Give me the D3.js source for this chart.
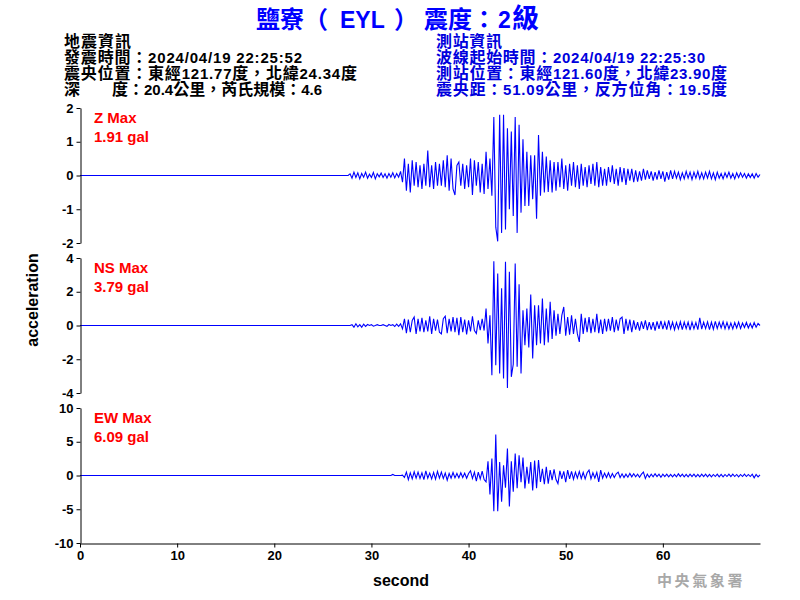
<!DOCTYPE html>
<html><head><meta charset="utf-8">
<script src="https://cdn.jsdelivr.net/npm/d3@7/dist/d3.min.js"></script>
<style>body{margin:0;background:#fff}</style>
</head><body><svg id="c" width="800" height="600"></svg>
<script>
// ---------------- data ----------------
const startTime = 27.0;   // seconds, first sample
const sampleStep = 0.2;   // seconds between samples
const zValues = [
 0,0,0,0,0.05,-0.08,0.1,-0.06,0.08,-0.1,
 0.06,-0.05,0.1,-0.08,0.04,-0.06,0.09,-0.1,0.05,-0.04,
 0.07,-0.06,0.05,-0.08,0.06,-0.05,0.08,-0.07,0.06,-0.05,
 0.12,-0.2,0.5,-0.45,0.35,-0.5,0.45,-0.3,0.4,-0.35,
 0.3,-0.4,0.35,-0.3,0.74,-0.35,0.3,-0.4,0.4,-0.3,
 0.35,-0.3,0.45,-0.35,0.6,-0.45,0.5,-0.4,-0.58,0.3,
 0.4,-0.3,0.35,-0.4,0.3,-0.35,0.5,-0.58,0.45,-0.3,
 0.4,-0.5,0.35,-0.55,0.7,-0.4,0.5,-0.6,1.73,-1.53,
 -1.95,1.8,-1.7,1.8,-1.6,1.4,-1.0,1.3,-1.2,1.73,
 -1.7,1.5,-1.1,1.07,-0.9,0.7,-0.9,0.6,-0.7,0.6,
 -1.28,1.2,-0.6,0.7,-0.5,0.56,-0.49,0.45,-0.5,0.4,
 -0.45,0.4,-0.35,0.5,-0.4,0.3,-0.45,0.35,-0.3,0.4,
 -0.35,0.3,-0.4,0.35,-0.3,0.25,-0.35,0.3,-0.25,0.35,
 -0.3,0.4,-0.35,0.25,-0.3,0.2,-0.3,0.25,-0.2,0.3,
 -0.25,0.2,-0.3,0.25,-0.2,0.22,-0.28,0.2,-0.15,0.2,
 -0.2,0.15,-0.18,0.12,-0.15,0.2,-0.12,0.15,-0.1,0.12,
 -0.15,0.1,-0.12,0.15,-0.1,0.12,-0.18,0.1,-0.12,0.15,
 -0.1,0.12,-0.08,0.1,-0.12,0.08,-0.1,0.12,-0.08,0.1,
 -0.12,0.1,-0.08,0.12,-0.1,0.08,-0.1,0.1,-0.08,0.12,
 -0.1,0.08,-0.12,0.1,-0.08,0.06,-0.1,0.08,-0.06,0.1,
 -0.08,0.06,-0.1,0.08,-0.06,0.08,-0.05,0.06,-0.08,0.05,
 -0.06,0.05,-0.08,0.06,-0.05,0.03
];
const nsValues = [
 0,0,0,0,0,0.05,-0.1,0.1,-0.08,0.05,
 -0.1,0.08,-0.05,0.06,0,0.05,-0.04,0,0.05,0,
 0,0.05,0,-0.05,0.06,0,0.05,-0.06,0.08,-0.05,
 0.1,-0.2,0.4,-0.45,0.35,-0.4,0.3,0.5,-0.5,0.4,
 -0.35,0.45,-0.4,0.3,-0.35,0.55,-0.5,0.4,-0.3,0.35,
 -0.4,-0.5,0.4,0.55,-0.45,0.4,-0.35,0.5,-0.4,0.45,
 -0.58,0.5,-0.4,0.35,-0.53,0.3,-0.35,0.55,-0.3,-0.47,
 0.3,-0.28,0.4,-0.3,1.0,-1.07,0.6,-2.95,3.81,-2.35,
 3.08,-2.85,2.2,-3.14,3.77,-3.7,3.18,-3.04,-2.3,3.68,
 -2.45,2.45,-2.85,0.9,-1.17,1.0,-1.3,1.84,-1.96,1.2,
 -1.17,1.2,-1.07,1.6,-1.17,1.0,-1.0,1.4,-0.8,0.9,
 -0.6,0.7,-0.5,0.6,1.1,-0.6,0.5,-0.55,0.6,-0.5,
 0.4,-0.5,-0.97,0.7,-0.5,0.45,-0.4,0.5,-0.45,0.4,
 -0.4,0.7,-0.45,0.35,-0.5,0.4,-0.35,0.4,-0.3,0.5,
 -0.4,0.35,-0.3,0.4,0.5,-0.5,0.4,-0.3,0.35,-0.4,
 0.3,-0.25,0.2,-0.3,0.25,-0.2,0.3,-0.28,0.2,-0.25,
 0.2,-0.3,0.25,-0.2,0.28,-0.22,0.2,-0.25,0.3,-0.2,
 0.2,-0.25,0.18,-0.2,0.22,-0.25,0.2,-0.18,0.2,-0.28,
 0.2,-0.2,0.18,-0.25,0.45,-0.22,0.2,-0.18,0.22,-0.25,
 0.2,-0.22,0.25,-0.18,0.2,-0.15,0.22,-0.2,0.18,-0.2,
 0.15,-0.2,0.18,-0.15,0.2,-0.18,0.15,-0.12,0.18,-0.15,
 0.12,-0.15,0.18,-0.1,0.12,0
];
const ewValues = [
 0,0,0,0,0,0,0,0,0,0,
 0,0,0,0,0,0,0,0,0,0,
 0,0,0,0,0,0,0.15,0,0,0,
 0,0.05,-0.3,0.5,-0.6,0.4,-0.5,0.55,-0.4,0.5,
 -0.45,0.4,-0.6,0.7,-0.4,0.35,-0.5,0.45,-0.55,0.6,
 -0.4,0.5,-0.45,0.35,-0.7,0.3,-0.4,0.45,-0.35,0.3,
 -0.35,0.4,-0.3,0.35,-0.4,0.3,0.7,-0.45,0.5,-0.84,
 0.5,-0.5,0.65,-0.6,-0.95,2.1,-2.8,2.5,-5.3,6.09,
 -5.3,2.0,-3.9,1.5,-1.8,4.0,-4.6,2.1,-2.4,3.26,
 -1.9,3.0,-1.0,2.67,-1.93,1.3,-1.2,2.0,-2.2,2.2,
 -1.9,2.3,-0.95,1.0,-1.3,1.3,-1.2,0.8,-0.7,0.9,
 -0.6,-1.2,0.7,-0.5,0.6,-1.0,0.8,-0.5,0.6,-0.55,
 0.5,-0.4,0.6,-0.45,0.45,-0.5,0.4,0.8,-0.5,0.4,
 -0.4,0.45,-0.95,0.8,-0.4,0.35,-0.3,0.4,-0.35,0.3,
 -0.3,0.25,0.5,-0.3,0.25,-0.3,0.2,-0.25,0.3,-0.2,
 0.25,-0.2,0.2,-0.25,0.2,0.5,-0.45,0.2,-0.25,0.2,
 -0.2,0.25,-0.15,0.2,-0.25,0.2,-0.15,0.2,-0.2,0.15,
 -0.2,0.15,-0.2,0.25,-0.15,0.2,-0.2,0.15,-0.2,0.2,
 -0.15,0.2,-0.2,0.15,-0.2,0.2,-0.15,0.2,-0.2,0.15,
 -0.2,0.15,-0.15,0.2,-0.2,0.15,-0.2,0.15,-0.15,0.2,
 -0.15,0.2,-0.15,0.15,-0.2,0.15,-0.15,0.2,-0.15,0.15,
 -0.15,0.2,-0.35,0.15,-0.2,0.1
];
const zTicks = [-2,-1,0,1,2];
const nsTicks = [-4,-2,0,2,4];
const ewTicks = [-10,-5,0,5,10];
const xTicks = [0,10,20,30,40,50,60];
const channelNames = ["Z","NS","EW"];
const channelPeaks = ["1.91 gal","3.79 gal","6.09 gal"];
const titleParts = ["鹽寮（","EYL","）","震度：","2","級"];
const quakeInfo = ["地震資訊","發震時間：2024/04/19 22:25:52","震央位置：東經121.77度，北緯24.34度","深　　度：20.4公里，芮氏規模：4.6"];
const stationInfo = ["測站資訊","波線起始時間：2024/04/19 22:25:30","測站位置：東經121.60度，北緯23.90度","震央距：51.09公里，反方位角：19.5度"];
const xLabel = "second", yLabel = "acceleration", agency = "中央氣象署";

// ---------------- drawing ----------------
const svg = d3.select("#c");
const LATIN = '"Liberation Sans", Arial, sans-serif';
const CJK = '"Noto Sans CJK TC", "Noto Sans CJK SC", sans-serif';

function richText(x, y, str, color, cjkSize, latinSize, cjkWeight, len) {
  const t = svg.append("text").attr("x", x).attr("y", y).attr("fill", color);
  (str.match(/[\x00-\x7F]+|[^\x00-\x7F]+/g) || []).forEach(run => {
    const ascii = /^[\x00-\x7F]/.test(run);
    t.append("tspan").text(run)
      .attr("font-family", ascii ? LATIN : CJK)
      .attr("font-size", ascii ? latinSize : cjkSize)
      .attr("font-weight", ascii ? "bold" : cjkWeight)
      .style("white-space", "pre");
  });
  if (len) t.attr("textLength", len).attr("lengthAdjust", "spacing");
  return t;
}

// title (pieces laid out as in the reference)
const titleX = [256, 340, 394, 424, 498, 512];
titleParts.forEach((s, i) => {
  const ascii = /^[\x00-\x7F]/.test(s);
  svg.append("text").attr("x", titleX[i]).attr("y", 28).attr("fill", "#0000ff")
    .attr("font-family", ascii ? LATIN : CJK).attr("font-weight", "bold")
    .attr("font-size", ascii ? 23 : (s === "級" ? 27 : 24)).text(s);
});

// info blocks
const lineY = [47, 63, 79, 95];
const quakeLen = [67, 238, 293, 258];
const stationLen = [66, 269, 291, 291];
quakeInfo.forEach((s, i) => richText(64, lineY[i], s, "#000", 16, 15, "bold", quakeLen[i]));
stationInfo.forEach((s, i) => richText(436, lineY[i], s, "#0000dd", 16, 15, "bold", stationLen[i]));

const x = d3.scaleLinear().domain([0, 70]).range([80, 760]);
const panels = [
  {values: zValues, ticks: zTicks, top: 108, bottom: 243},
  {values: nsValues, ticks: nsTicks, top: 258, bottom: 393},
  {values: ewValues, ticks: ewTicks, top: 408, bottom: 543}
];

panels.forEach((p, k) => {
  const dom = [p.ticks[0], p.ticks[p.ticks.length - 1]];
  const y = d3.scaleLinear().domain(dom).range([p.bottom, p.top]);
  const pts = [[0, 0]].concat(p.values.map((v, i) => [startTime + i * sampleStep, v]));
  const line = d3.line().x(d => x(d[0])).y(d => y(d[1]));
  svg.append("path").datum(pts).attr("d", line)
    .attr("fill", "none").attr("stroke", "#0000ff").attr("stroke-width", 1.1);
  const ax = svg.append("g").attr("transform", "translate(80.5,0)")
    .call(d3.axisLeft(y).tickValues(p.ticks).tickFormat(d => String(d))
      .tickSize(4).tickSizeOuter(0).tickPadding(3));
  ax.selectAll("text").attr("font-family", LATIN).attr("font-size", 13)
    .attr("font-weight", "bold").attr("fill", "#000");
  ax.selectAll("line,path").attr("stroke", "#000");
  svg.append("text").attr("x", 94).attr("y", p.top + 15).attr("fill", "#ff0000")
    .attr("font-family", LATIN).attr("font-size", 15).attr("font-weight", "bold")
    .text(channelNames[k] + " Max");
  svg.append("text").attr("x", 94).attr("y", p.top + 34).attr("fill", "#ff0000")
    .attr("font-family", LATIN).attr("font-size", 15).attr("font-weight", "bold")
    .text(channelPeaks[k]);
});

const xa = svg.append("g").attr("transform", "translate(0,543.5)")
  .call(d3.axisBottom(x).tickValues(xTicks).tickFormat(d => String(d))
    .tickSize(4).tickSizeOuter(0).tickPadding(3));
xa.selectAll("text").attr("font-family", LATIN).attr("font-size", 13)
  .attr("font-weight", "bold").attr("fill", "#000");
xa.selectAll("line,path").attr("stroke", "#000");

svg.append("text").attr("x", 401).attr("y", 586).attr("text-anchor", "middle")
  .attr("font-family", LATIN).attr("font-size", 16).attr("font-weight", "bold").text(xLabel);
svg.append("text").attr("transform", "translate(38,300) rotate(-90)").attr("text-anchor", "middle")
  .attr("font-family", LATIN).attr("font-size", 16).attr("font-weight", "bold").text(yLabel);
svg.append("text").attr("x", 657).attr("y", 586).attr("fill", "#a8a8a8")
  .attr("font-family", CJK).attr("font-size", 15).attr("font-weight", "bold")
  .attr("letter-spacing", 2.6).text(agency);
</script></body></html>
